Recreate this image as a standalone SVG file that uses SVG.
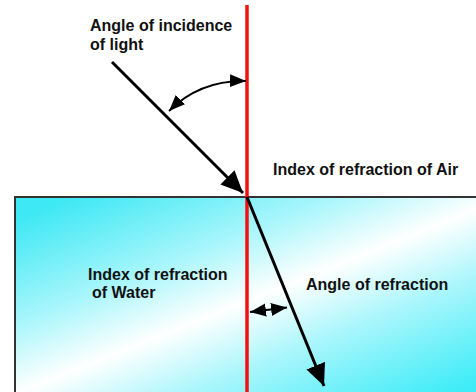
<svg xmlns="http://www.w3.org/2000/svg" width="476" height="392" viewBox="0 0 476 392">
  <style>
    .lbl { font-family: "Liberation Sans", Arial, sans-serif; font-size: 16px; font-weight: bold; fill: #111; }
    .ray { stroke: #000; stroke-width: 3; fill: none; }
    .thin { stroke: #000; stroke-width: 2; fill: none; }
  </style>
  <defs>
    <linearGradient id="waterGrad" gradientUnits="userSpaceOnUse" x1="190" y1="150" x2="310" y2="450">
      <stop offset="0" stop-color="#3ee8f4"/>
      <stop offset="0.3" stop-color="#a8f6fb"/>
      <stop offset="0.5" stop-color="#ffffff"/>
      <stop offset="0.7" stop-color="#a8f6fb"/>
      <stop offset="1" stop-color="#3eecf8"/>
    </linearGradient>
    <marker id="bigHead" markerUnits="userSpaceOnUse" markerWidth="24" markerHeight="22" refX="22" refY="10" orient="auto">
      <path d="M0,0 L22,10 L0,20 z" fill="#000"/>
    </marker>
    <marker id="smallHead" markerUnits="userSpaceOnUse" markerWidth="18" markerHeight="15" refX="16" refY="6.5" orient="auto-start-reverse">
      <path d="M0,0 L16,6.5 L0,13 z" fill="#000"/>
    </marker>
  </defs>

  <g id="water">
    <rect x="15" y="197" width="470" height="205" fill="url(#waterGrad)" stroke="#333" stroke-width="2"/>
  </g>

  <g id="normal">
    <line x1="247" y1="5" x2="247" y2="392" stroke="#f21010" stroke-width="3.5"/>
  </g>

  <g id="connectors">
    <line class="ray" x1="112" y1="62" x2="243" y2="193" marker-end="url(#bigHead)"/>
    <line class="ray" x1="247" y1="197" x2="324" y2="386" marker-end="url(#bigHead)"/>
    <path class="thin" d="M246,81 Q200,80 169,111" marker-start="url(#smallHead)" marker-end="url(#smallHead)"/>
    <line class="thin" x1="250" y1="312" x2="287" y2="307.5" marker-start="url(#smallHead)" marker-end="url(#smallHead)"/>
  </g>

  <g id="label-incidence">
    <text class="lbl" x="90" y="31">Angle of incidence</text>
    <text class="lbl" x="90" y="50">of light</text>
  </g>
  <g id="label-air">
    <text class="lbl" x="273" y="175">Index of refraction of Air</text>
  </g>
  <g id="label-water">
    <text class="lbl" x="88" y="280">Index of refraction</text>
    <text class="lbl" x="92" y="298"> of Water</text>
  </g>
  <g id="label-refraction">
    <text class="lbl" x="306" y="290">Angle of refraction</text>
  </g>
</svg>
